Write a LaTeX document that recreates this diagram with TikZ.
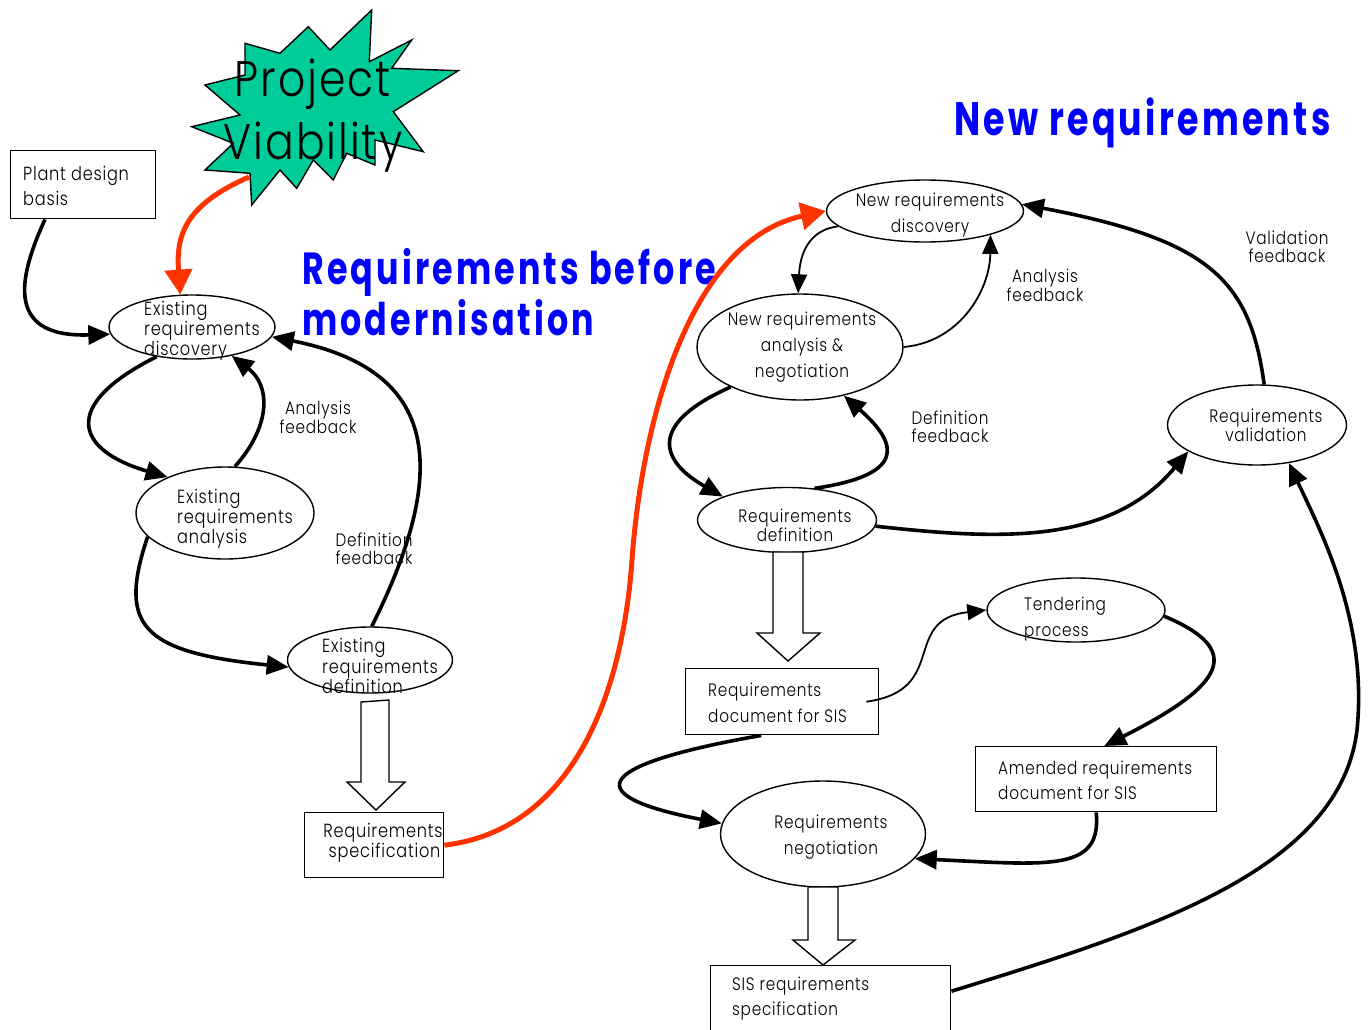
\documentclass[tikz,border=0pt]{standalone}
\usepackage{fontspec}
\setmainfont{Poppins Light}[FakeStretch=0.85,LetterSpace=4]
\newfontfamily\titlefont{Poppins}[FakeStretch=0.74,LetterSpace=7]
\usetikzlibrary{arrows.meta,calc,shapes.geometric}
\newcommand\setfs[2]{\fontsize{#1}{#2}\selectfont}
\definecolor{vred}{HTML}{FF3300}
\definecolor{vgreen}{HTML}{00CC99}
\definecolor{vblue}{HTML}{0000FF}
\tikzset{
  ell/.style={draw,ellipse,line width=1.4pt,inner sep=0},
  box/.style={draw,rectangle,line width=1.4pt,inner sep=0,anchor=north west},
  tx/.style={inner sep=0,align=left},
  lbl/.style={inner sep=0,align=center,font=\setfs{18}{18}},
  flow/.style={line width=3.6pt,-{Triangle[length=22pt,width=19pt]}},
  thinflow/.style={line width=1.8pt,-{Triangle[length=19pt,width=16pt]}},
  redflow/.style={line width=5pt,draw=vred,-{Triangle[length=25pt,width=27pt,fill=vred]}},
  hollow/.style={draw,line width=1.4pt,fill=white,line join=miter},
}
\begin{document}
\begin{tikzpicture}[x=1pt,y=-1pt]
\useasboundingbox (0,0) rectangle (1370,1030);

% ---------- Project viability burst ----------
\filldraw[fill=vgreen,draw=black,line width=1.4pt]
  (371.7,10) -- (369.3,61.7) -- (411.7,40) -- (391.7,68.3) -- (458.3,70.7)
  -- (393.3,111.7) -- (423.3,151.7) -- (375,140) -- (375,165) -- (346.7,153.3)
  -- (333.3,180) -- (313.3,160) -- (296.7,188.3) -- (280,170) -- (251.7,205)
  -- (250,173.3) -- (205,170) -- (233.3,143.3) -- (191.7,126.7) -- (240,115)
  -- (205,85) -- (245,75) -- (245,43.3) -- (280,53.3) -- (308.3,26.7)
  -- (330,50) -- cycle;
\node[inner sep=0,align=center,font=\setfs{50}{63}] (pv) at (313,116) {Project\\Viability};
\coordinate (pvfoot) at (249,177);

% ---------- titles ----------
\node[inner sep=0,anchor=west,text=vblue,font=\titlefont\bfseries\setfs{47}{47}] (tnew) at (954,123) {New requirements};
\node[inner sep=0,anchor=west,align=left,text=vblue,font=\titlefont\bfseries\setfs{45}{51}] (told) at (302,292) {Requirements before\\modernisation};

% ---------- existing requirements (left) ----------
\node[box,minimum width=145,minimum height=68] (pdb) at (10,150) {};
\node[tx,anchor=west,font=\setfs{19}{25}] (pdbt) at (23,186) {Plant design\\basis};

\node[ell,minimum width=166,minimum height=64] (exd) at (192,327) {};
\node[tx,anchor=west,font=\setfs{19}{16}] (exdt) at (144,331) {Existing\\requirements\\discovery};

\node[ell,minimum width=178,minimum height=92] (exa) at (225,513) {};
\node[tx,anchor=west,font=\setfs{19}{20}] (exat) at (177,519) {Existing\\requirements\\analysis};

\node[ell,minimum width=165,minimum height=66] (exf) at (370,660) {};
\node[tx,anchor=west,font=\setfs{19}{18}] (exft) at (322,666) {Existing\\requirements\\definition};

\node[box,minimum width=139,minimum height=65] (rsp) at (304,812) {};
\node[tx,align=center,font=\setfs{19}{18}] (rspt) at (383,843) {Requirements\\\,specification};

\node[lbl] (afl) at (318,417) {Analysis\\feedback};
\node[lbl] (dfl) at (374,549) {Definition\\feedback};

\draw[hollow] (361,702) -- (389,700) -- (389,782) -- (405,782) -- (376,810)
  -- (347,782) -- (361,782) -- cycle;

% ---------- new requirements (right) ----------
\node[ell,minimum width=197,minimum height=62] (nrd) at (925,211) {};
\node[tx,align=center,font=\setfs{18}{26}] (nrdt) at (930,215) {New requirements\\discovery};

\node[ell,minimum width=206,minimum height=106] (nan) at (800,347) {};
\node[tx,align=center,font=\setfs{18}{26}] (nant) at (802,347) {New requirements\\analysis \&\\negotiation};

\node[ell,minimum width=179,minimum height=65] (rdf) at (787,520) {};
\node[tx,align=center,font=\setfs{18}{18}] (rdft) at (795,525) {Requirements\\definition};

\node[ell,minimum width=179,minimum height=80] (rva) at (1257,425) {};
\node[tx,align=center,font=\setfs{18}{18}] (rvat) at (1266,425) {Requirements\\validation};

\node[ell,minimum width=178,minimum height=64] (tdp) at (1076,610) {};
\node[tx,anchor=west,font=\setfs{18}{26}] (tdpt) at (1024,619) {Tendering\\process};

\node[box,minimum width=193,minimum height=66] (rdoc) at (685,668) {};
\node[tx,anchor=west,font=\setfs{18}{26}] (rdoct) at (708,703) {Requirements\\document for SIS};

\node[box,minimum width=241,minimum height=65] (amd) at (975,746) {};
\node[tx,anchor=west,font=\setfs{18}{25}] (amdt) at (998,780) {Amended requirements\\document for SIS};

\node[ell,minimum width=205,minimum height=106] (rng) at (823,834) {};
\node[tx,align=center,font=\setfs{18}{26}] (rngt) at (831,837) {Requirements\\negotiation};

\node[box,minimum width=240,minimum height=75] (sis) at (710,965) {};
\node[tx,anchor=west,font=\setfs{18}{25}] (sist) at (732,999) {SIS requirements\\specification};

\node[lbl] (afr) at (1045,285) {Analysis\\feedback};
\node[lbl] (dfr) at (950,427) {Definition\\feedback};
\node[lbl] (vfr) at (1287,247) {Validation\\feedback};

\draw[hollow] (773,552) -- (803,552) -- (803,633) -- (820,633) -- (788,661)
  -- (757,633) -- (773,633) -- cycle;
\draw[hollow] (808,887) -- (838,887) -- (838,940) -- (855,940) -- (823,965)
  -- (793,940) -- (808,940) -- cycle;

% ---------- connectors, left ----------
\draw[flow] ($(pdb.south west)+(35,0)$) .. controls (22,270) and (0,338) .. (exd.185);
\draw[flow] (exd.220) .. controls (60,405) and (75,450) .. (exa.148);
\draw[flow] (exa.78) .. controls (272,425) and (270,385) .. (exd.-36);
\draw[flow] (exa.197) .. controls (118,625) and (140,652) .. (exf.185);
\draw[flow] (exf.87) .. controls (450,470) and (440,370) .. (exd.-7);

% ---------- connectors, right ----------
\draw[thinflow] (nrd.190) .. controls (808,230) and (800,255) .. (nan.92);
\draw[thinflow] (nan.east) .. controls (960,342) and (990,290) .. (nrd.-20);
\draw[flow] (nan.210) .. controls (645,425) and (662,462) .. (rdf.160);
\draw[flow] (rdf.49) .. controls (905,475) and (900,445) .. (nan.-48);
\draw[flow] (rdf.-4) .. controls (1000,540) and (1110,545) .. (rva.201);
\draw[flow] (rva.80) .. controls (1250,280) and (1210,240) .. (nrd.4);
\draw[thinflow] ($(rdoc.east)+(-13,0)$) .. controls (950,690) and (900,620) .. (tdp.west);
\draw[flow] (tdp.-4) .. controls (1245,650) and (1225,685) .. ($(amd.north)+(8,0)$);
\draw[flow] ($(rdoc.south)+(-21,0)$) .. controls (565,770) and (600,800) .. (rng.174);
\draw[flow] (amd.south) .. controls (1102,872) and (1050,865) .. (rng.-15);
\draw[flow] ($(sis.east)+(0,-12)$) .. controls (1150,930) and (1340,870) .. (1357,730)
  .. controls (1368,620) and (1320,530) .. (rva.-50);

% ---------- red links ----------
\draw[redflow] (pvfoot) .. controls (185,205) and (176,235) .. (exd.110);
\draw[redflow] (rsp.east) .. controls (570,830) and (622,700) .. (632,560)
  .. controls (642,420) and (690,240) .. (nrd.180);
\end{tikzpicture}
\end{document}
